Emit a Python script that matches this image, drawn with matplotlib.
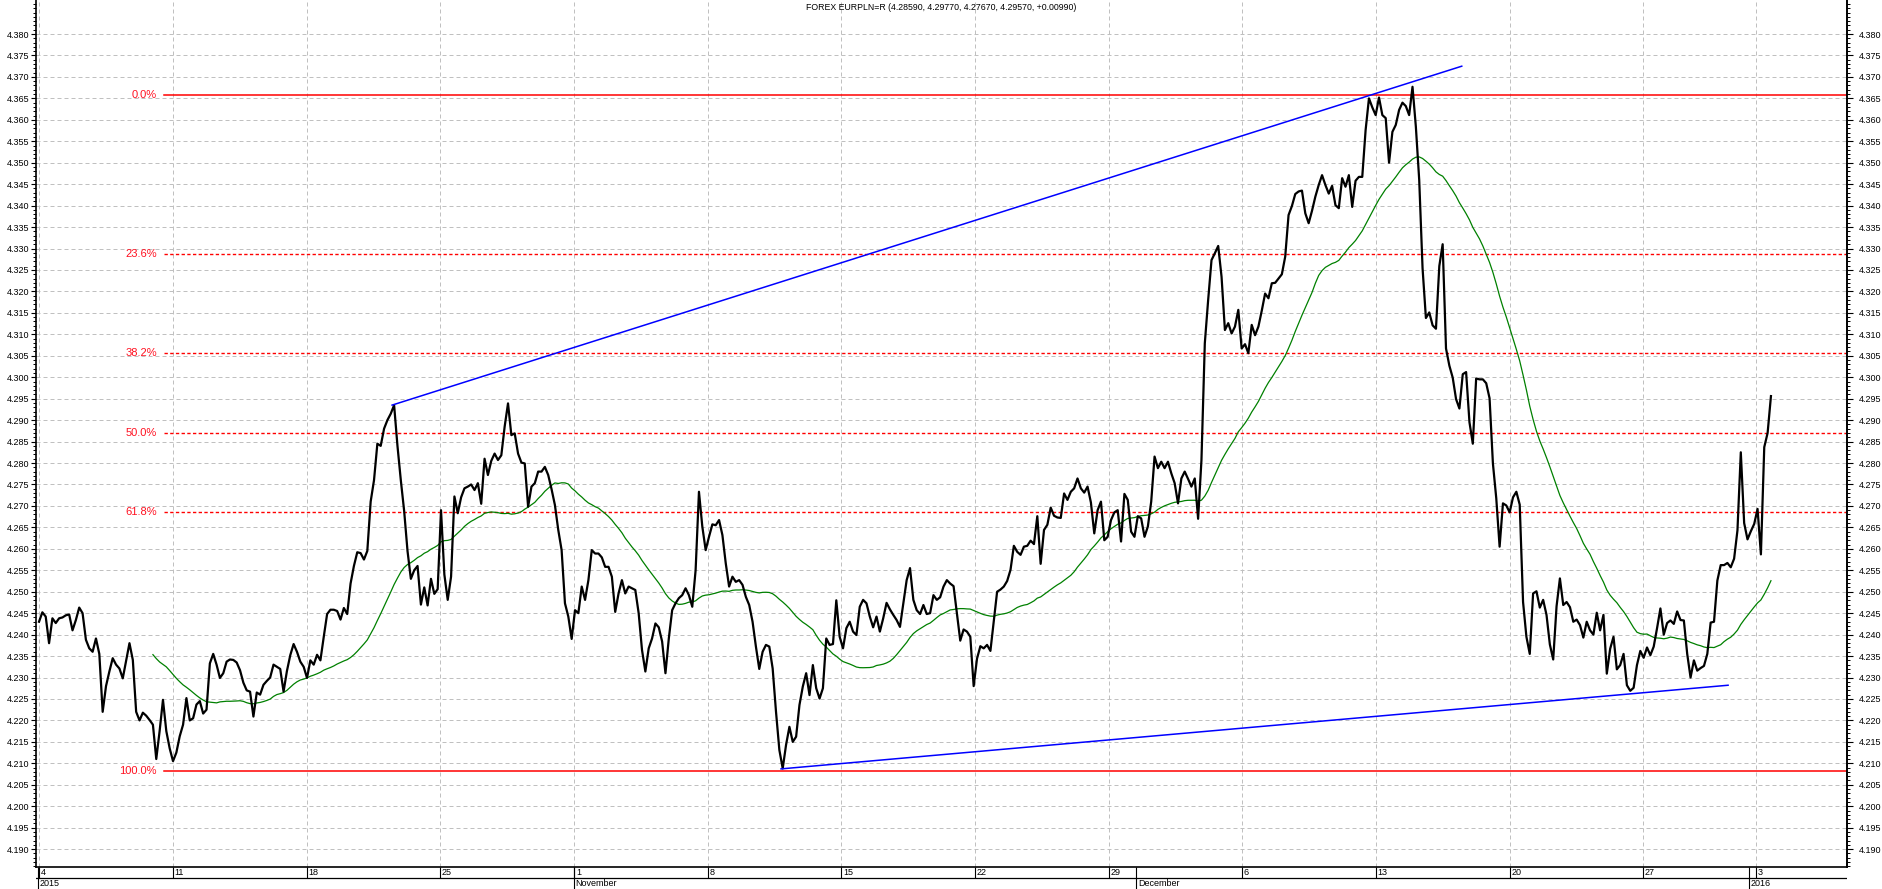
import numpy as np
import pandas as pd
import matplotlib
matplotlib.use('Agg')
import matplotlib.pyplot as plt
from matplotlib.ticker import FixedLocator, MultipleLocator, FormatStrFormatter

plt.rcParams['font.family'] = ['Liberation Sans', 'DejaVu Sans']

title = 'FOREX EURPLN=R (4.28590, 4.29770, 4.27670, 4.29570, +0.00990)'

# EUR/PLN, 3-hour bars (weekends skipped), 4 Oct 2015 - 4 Jan 2016
close = [
    4.2430, 4.2452, 4.2442, 4.2380, 4.2438, 4.2427, 4.2438, 4.2440, 4.2445, 4.2447,
    4.2410, 4.2434, 4.2463, 4.2450, 4.2388, 4.2368, 4.2360, 4.2391, 4.2355, 4.2220,
    4.2280, 4.2314, 4.2345, 4.2330, 4.2321, 4.2298, 4.2339, 4.2380, 4.2341, 4.2220,
    4.2200, 4.2218, 4.2211, 4.2201, 4.2190, 4.2110, 4.2175, 4.2248, 4.2175, 4.2135,
    4.2105, 4.2125, 4.2163, 4.2190, 4.2252, 4.2200, 4.2205, 4.2237, 4.2245, 4.2216,
    4.2225, 4.2333, 4.2355, 4.2330, 4.2299, 4.2310, 4.2337, 4.2342, 4.2341, 4.2335,
    4.2317, 4.2288, 4.2270, 4.2267, 4.2209, 4.2265, 4.2260, 4.2283, 4.2292, 4.2300,
    4.2330, 4.2325, 4.2320, 4.2267, 4.2315, 4.2352, 4.2378, 4.2360, 4.2337, 4.2325,
    4.2299, 4.2340, 4.2330, 4.2353, 4.2340, 4.2395, 4.2448, 4.2458, 4.2458, 4.2455,
    4.2435, 4.2462, 4.2448, 4.2519, 4.2560, 4.2592, 4.2590, 4.2575, 4.2595, 4.2710,
    4.2760, 4.2845, 4.2840, 4.2880, 4.2900, 4.2915, 4.2935, 4.2840, 4.2760, 4.2688,
    4.2595, 4.2530, 4.2550, 4.2560, 4.2470, 4.2510, 4.2468, 4.2530, 4.2495, 4.2506,
    4.2690, 4.2540, 4.2481, 4.2535, 4.2722, 4.2683, 4.2720, 4.2741, 4.2745, 4.2750,
    4.2737, 4.2753, 4.2705, 4.2810, 4.2772, 4.2805, 4.2822, 4.2807, 4.2818, 4.2885,
    4.2939, 4.2865, 4.2869, 4.2822, 4.2801, 4.2799, 4.2698, 4.2745, 4.2753, 4.2780,
    4.2780, 4.2791, 4.2772, 4.2739, 4.2702, 4.2644, 4.2597, 4.2473, 4.2442, 4.2390,
    4.2457, 4.2450, 4.2512, 4.2481, 4.2527, 4.2597, 4.2589, 4.2589, 4.2580, 4.2558,
    4.2558, 4.2535, 4.2453, 4.2496, 4.2527, 4.2496, 4.2512, 4.2508, 4.2504, 4.2450,
    4.2364, 4.2314, 4.2368, 4.2391, 4.2426, 4.2417, 4.2384, 4.2310, 4.2391, 4.2457,
    4.2473, 4.2485, 4.2492, 4.2508, 4.2492, 4.2465, 4.2550, 4.2733, 4.2652, 4.2597,
    4.2628, 4.2657, 4.2655, 4.2667, 4.2632, 4.2566, 4.2512, 4.2535, 4.2523, 4.2527,
    4.2516, 4.2488, 4.2469, 4.2430, 4.2372, 4.2320, 4.2360, 4.2376, 4.2372, 4.2321,
    4.2220, 4.2131, 4.2088, 4.2143, 4.2185, 4.2150, 4.2162, 4.2236, 4.2279, 4.2310,
    4.2259, 4.2329, 4.2275, 4.2251, 4.2275, 4.2391, 4.2376, 4.2378, 4.2480, 4.2395,
    4.2368, 4.2415, 4.2430, 4.2407, 4.2399, 4.2465, 4.2481, 4.2473, 4.2442, 4.2417,
    4.2442, 4.2407, 4.2438, 4.2474, 4.2459, 4.2446, 4.2434, 4.2418, 4.2473, 4.2527,
    4.2555, 4.2481, 4.2457, 4.2448, 4.2469, 4.2448, 4.2450, 4.2492, 4.2481, 4.2487,
    4.2512, 4.2527, 4.2519, 4.2513, 4.2450, 4.2386, 4.2412, 4.2407, 4.2395, 4.2280,
    4.2344, 4.2373, 4.2368, 4.2376, 4.2362, 4.2430, 4.2500, 4.2505, 4.2512, 4.2525,
    4.2551, 4.2607, 4.2593, 4.2586, 4.2605, 4.2607, 4.2619, 4.2611, 4.2676, 4.2565,
    4.2644, 4.2656, 4.2696, 4.2677, 4.2673, 4.2672, 4.2729, 4.2714, 4.2733, 4.2741,
    4.2764, 4.2741, 4.2731, 4.2745, 4.2708, 4.2636, 4.2690, 4.2710, 4.2620, 4.2628,
    4.2667, 4.2685, 4.2690, 4.2617, 4.2728, 4.2714, 4.2640, 4.2628, 4.2676, 4.2671,
    4.2628, 4.2652, 4.2710, 4.2815, 4.2788, 4.2803, 4.2788, 4.2803, 4.2776, 4.2753,
    4.2706, 4.2764, 4.2780, 4.2763, 4.2745, 4.2764, 4.2670, 4.2807, 4.3079, 4.3180,
    4.3273, 4.3289, 4.3306, 4.3234, 4.3110, 4.3126, 4.3102, 4.3118, 4.3157, 4.3067,
    4.3077, 4.3056, 4.3122, 4.3098, 4.3118, 4.3155, 4.3195, 4.3184, 4.3219, 4.3220,
    4.3230, 4.3240, 4.3281, 4.3378, 4.3399, 4.3427, 4.3433, 4.3435, 4.3382, 4.3359,
    4.3388, 4.3421, 4.3448, 4.3471, 4.3448, 4.3428, 4.3446, 4.3401, 4.3394, 4.3464,
    4.3444, 4.3471, 4.3397, 4.3458, 4.3467, 4.3467, 4.3576, 4.3650, 4.3629, 4.3611,
    4.3652, 4.3611, 4.3604, 4.3500, 4.3572, 4.3588, 4.3623, 4.3640, 4.3632, 4.3611,
    4.3677, 4.3584, 4.3460, 4.3254, 4.3138, 4.3151, 4.3121, 4.3113, 4.3259, 4.3310,
    4.3067, 4.3027, 4.2999, 4.2949, 4.2927, 4.3007, 4.3012, 4.2895, 4.2845, 4.2997,
    4.2995, 4.2995, 4.2986, 4.2951, 4.2799, 4.2718, 4.2605, 4.2706, 4.2701, 4.2685,
    4.2720, 4.2733, 4.2703, 4.2476, 4.2395, 4.2355, 4.2496, 4.2501, 4.2463, 4.2481,
    4.2446, 4.2377, 4.2342, 4.2466, 4.2531, 4.2469, 4.2476, 4.2464, 4.2430, 4.2435,
    4.2422, 4.2393, 4.2430, 4.2410, 4.2400, 4.2451, 4.2410, 4.2446, 4.2309, 4.2367,
    4.2395, 4.2319, 4.2329, 4.2355, 4.2282, 4.2269, 4.2276, 4.2329, 4.2362, 4.2346,
    4.2370, 4.2352, 4.2372, 4.2415, 4.2461, 4.2400, 4.2427, 4.2433, 4.2425, 4.2454,
    4.2434, 4.2433, 4.2355, 4.2300, 4.2340, 4.2316, 4.2322, 4.2327, 4.2355, 4.2428,
    4.2430, 4.2526, 4.2562, 4.2562, 4.2567, 4.2557, 4.2577, 4.2643, 4.2825, 4.2660,
    4.2622, 4.2641, 4.2658, 4.2693, 4.2587, 4.2837, 4.2870, 4.2956,
]

ma_len = 35

# week / month marks on the bar axis
week_pos = [0, 40, 80, 119.8, 159.8, 199.6, 239.5, 279.5, 319.3, 359.2, 399, 439, 478.9, 512.5]
week_lab = ['4', '11', '18', '25', '1', '8', '15', '22', '29', '6', '13', '20', '27', '3']
month_pos = [-0.4, 159.6, 327.6, 510.4]
month_lab = ['2015', 'November', 'December', '2016']

# fibonacci retracement
fib_hi = 4.3659
fib_lo = 4.2083
fib_ratio = [0.0, 0.236, 0.382, 0.5, 0.618, 1.0]
fib_start = 37.3

# trend lines (bar, price)
up_x = [105.4, 424.7]
up_y = [4.2935, 4.3725]
lo_x = [221.5, 504.2]
lo_y = [4.2087, 4.2282]

yticks = np.round(np.arange(4.190, 4.3801, 0.005), 3)

W, H = 1883, 889
fig = plt.figure(figsize=(W / 100, H / 100), dpi=100)
rect = [36 / W, 22 / H, 1811 / W, 867 / H]
ax = fig.add_axes(rect)

bars = np.arange(len(close))
s = pd.Series(close)
ma = s.rolling(ma_len).mean()

xlim = (-0.9, 539.7)
ylim = (4.18583, 4.38793)

# fib levels
for r in fib_ratio:
    lvl = fib_hi - r * (fib_hi - fib_lo)
    if r in (0.0, 1.0):
        ax.plot([fib_start, xlim[1]], [lvl, lvl], color='#ff0000', lw=1.1, zorder=2)
    else:
        ax.plot([fib_start, xlim[1]], [lvl, lvl], color='#ff0000', lw=1.0,
                dashes=(2.4, 1.7), zorder=2)
    ax.annotate('%.1f%%' % (r * 100), xy=(fib_start, lvl), xytext=(-5, 0),
                textcoords='offset points', ha='right', va='center',
                color='#ff1020', fontsize=8)

ax.plot(bars, ma, color='#008000', lw=0.9, zorder=3)
ax.plot(bars, close, color='black', lw=1.6, zorder=4)
ax.plot(up_x, up_y, color='#0000ff', lw=1.1, zorder=5)
ax.plot(lo_x, lo_y, color='#0000ff', lw=1.1, zorder=5)

ax.set_xlim(xlim)
ax.set_ylim(ylim)

ax.set_xticks(week_pos)
ax.tick_params(axis='x', length=0, labelbottom=False)
ax.yaxis.set_major_locator(FixedLocator(yticks))
ax.yaxis.set_minor_locator(MultipleLocator(0.001))
ax.yaxis.set_major_formatter(FormatStrFormatter('%.3f'))
ax.tick_params(axis='y', which='major', length=3.6, width=0.8, pad=1.3, labelsize=6.5, direction='out')
ax.tick_params(axis='y', which='minor', length=2.0, width=0.7, direction='out')

ax.grid(True, which='major', color='#c0c0c0', linestyle=(0, (4, 3)), linewidth=0.72)
ax.set_axisbelow(True)

for side in ['left', 'right', 'bottom']:
    ax.spines[side].set_color('black')
    ax.spines[side].set_linewidth(1.2)
ax.spines['top'].set_visible(False)

# right-hand price scale
axr = ax.twinx()
axr.set_ylim(ylim)
axr.yaxis.set_major_locator(FixedLocator(yticks))
axr.yaxis.set_minor_locator(MultipleLocator(0.001))
axr.yaxis.set_major_formatter(FormatStrFormatter('%.3f'))
axr.tick_params(axis='y', which='major', length=4.3, width=0.8, pad=4.3, labelsize=6.5, direction='out')
axr.tick_params(axis='y', which='minor', length=2.2, width=0.7, direction='out')
for side in ['left', 'top', 'bottom']:
    axr.spines[side].set_visible(False)
axr.spines['right'].set_linewidth(1.2)

# date strip under the chart
axb = fig.add_axes([rect[0], 0, rect[2], 22 / H])
axb.set_xlim(xlim)
axb.set_ylim(0, 2)
axb.axis('off')
axb.plot(xlim, [1, 1], color='black', lw=0.9)
axb.vlines(week_pos, 1, 2, color='black', lw=0.8)
axb.vlines(month_pos, 0, 2, color='black', lw=0.8)
for p, t in zip(week_pos, week_lab):
    axb.annotate(t, xy=(p, 1.5), xytext=(1.2, 0), textcoords='offset points',
                 ha='left', va='center', fontsize=6.5)
for p, t in zip(month_pos, month_lab):
    axb.annotate(t, xy=(p, 0.5), xytext=(1.2, 0), textcoords='offset points',
                 ha='left', va='center', fontsize=6.5)

fig.text(0.5, 1 - 7 / H, title, ha='center', va='center', fontsize=6.3)

fig.savefig('out.png', dpi=100)
